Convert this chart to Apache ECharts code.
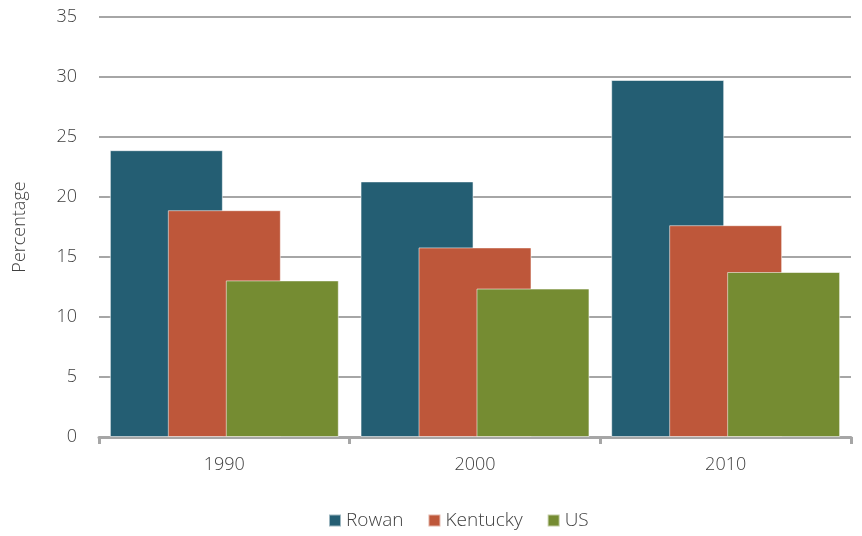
<!DOCTYPE html>
<html><head><meta charset="utf-8">
<script src="https://cdn.jsdelivr.net/npm/echarts@6/dist/echarts.min.js"></script>
<style>html,body{margin:0;padding:0;background:#fff}#c{width:862px;height:536px}</style>
</head><body><div id="c"></div>
<script>
const categories = ['1990', '2000', '2010'];
const rowan = [23.9, 21.3, 29.75];
const kentucky = [18.9, 15.8, 17.65];
const us = [13.05, 12.37, 13.75];
const yTicks = [0, 5, 10, 15, 20, 25, 30, 35];

const font = '"Open Sans", sans-serif';
const txt = '#404040';
const chart = echarts.init(document.getElementById('c'));
const bar = (name, data, color) => ({
  name, type: 'bar', data, barWidth: 113, barGap: '-48.7%',
  itemStyle: { color, borderColor: 'rgba(255,255,255,0.55)', borderWidth: 1 },
  emphasis: { disabled: true }
});
chart.setOption({
  animation: false,
  textStyle: { fontFamily: font },
  grid: { left: 99, right: 11, top: 17, bottom: 99 },
  legend: {
    bottom: 1, left: 323, itemWidth: 12, itemHeight: 12, itemGap: 24,
    icon: 'rect',
    textStyle: { fontSize: 19, color: txt, fontFamily: font, fontWeight: 300 },
    data: ['Rowan', 'Kentucky', 'US']
  },
  xAxis: {
    type: 'category', data: categories,
    axisLine: { lineStyle: { color: '#a6a6a6', width: 3 } },
    axisTick: { show: true, length: 7, lineStyle: { color: '#a6a6a6', width: 3 } },
    axisLabel: { fontSize: 18, color: txt, margin: 19, fontFamily: font, fontWeight: 300 }
  },
  yAxis: {
    type: 'value', min: yTicks[0], max: yTicks[yTicks.length - 1], interval: 5,
    name: 'Percentage', nameLocation: 'middle', nameGap: 70, nameRotate: 90,
    nameTextStyle: { fontSize: 18, color: txt, fontFamily: font, fontWeight: 300 },
    axisLine: { show: false }, axisTick: { show: false },
    axisLabel: { fontSize: 18, color: txt, margin: 22, fontFamily: font, fontWeight: 300 },
    splitLine: { lineStyle: { color: '#a6a6a6', width: 2 } }
  },
  series: [
    bar('Rowan', rowan, '#245e73'),
    bar('Kentucky', kentucky, '#be573a'),
    bar('US', us, '#758c32')
  ]
});
</script></body></html>
